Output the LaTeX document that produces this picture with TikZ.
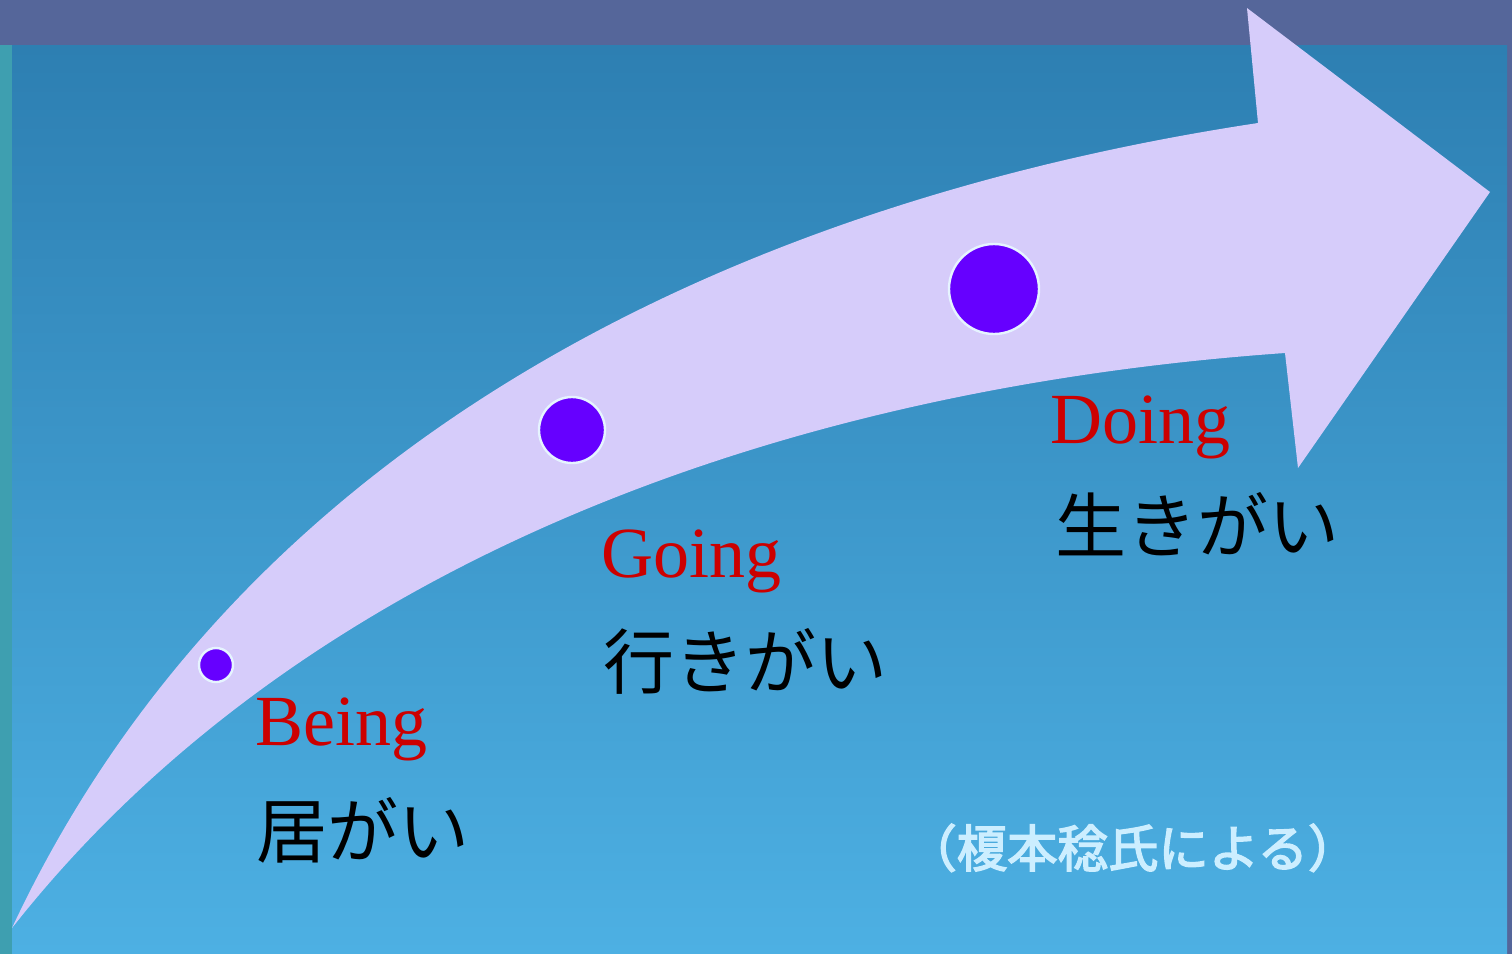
\documentclass[tikz,border=0pt]{standalone}
\usepackage{fontspec}
\setmainfont{Liberation Serif}
\newfontfamily\jpfont{Noto Sans CJK JP}
\newfontfamily\jpnotefont[FakeBold=3]{Noto Sans CJK JP}
\definecolor{bandc}{HTML}{55669A}
\definecolor{stripc}{HTML}{3E9FB0}
\definecolor{bgtop}{HTML}{2D7FB2}
\definecolor{bgbot}{HTML}{4DB0E3}
\definecolor{arrowc}{HTML}{D6CCFA}
\definecolor{dotc}{HTML}{6600FF}
\definecolor{dotring}{HTML}{E6F4FF}
\definecolor{engred}{HTML}{CC0000}
\definecolor{notec}{HTML}{CCEEFF}
\tikzset{
  dotnode/.style={circle, fill=dotc, draw=dotring, line width=1.2pt, inner sep=0pt},
  englabel/.style={anchor=base west, inner sep=0pt, text=engred, font=\fontsize{36}{40}\selectfont},
  jplabel/.style={anchor=base west, inner sep=0pt, text=black, font=\jpfont\fontsize{35.5}{40}\selectfont},
  notelabel/.style={anchor=base west, inner sep=0pt, text=notec, font=\jpnotefont\fontsize{25.2}{28}\selectfont}
}
\begin{document}
\begin{tikzpicture}[x=0.5pt,y=-0.5pt]
\useasboundingbox (0,0) rectangle (1512,954);
\fill[bandc] (0,0) rectangle (1512,954);
\fill[stripc] (0,45) rectangle (12,954);
\shade[top color=bgtop, bottom color=bgbot] (12,45) rectangle (1507,954);
% big curved arrow
\fill[arrowc] (12,928) .. controls (245,430) and (750,200) .. (1258,123)
  -- (1247,8) -- (1490,192) -- (1298,468) -- (1285,353)
  .. controls (760,390) and (290,575) .. (12,928) -- cycle;
% dots
\node[dotnode, minimum size=17pt] (dbeing) at (216,665) {};
\node[dotnode, minimum size=33pt] (dgoing) at (572,430) {};
\node[dotnode, minimum size=45pt] (ddoing) at (994,289) {};
% labels
\node[englabel] (tbeing) at (255,745) {Being};
\node[jplabel] (jbeing) at (256,857) {居がい};
\node[englabel] (tgoing) at (601,577) {Going};
\node[jplabel] (jgoing) at (603,688) {行きがい};
\node[englabel] (tdoing) at (1050,443) {Doing};
\node[jplabel] (jdoing) at (1055,552) {生きがい};
\node[notelabel] (note) at (906,867) {（榎本稔氏による）};
\end{tikzpicture}
\end{document}
